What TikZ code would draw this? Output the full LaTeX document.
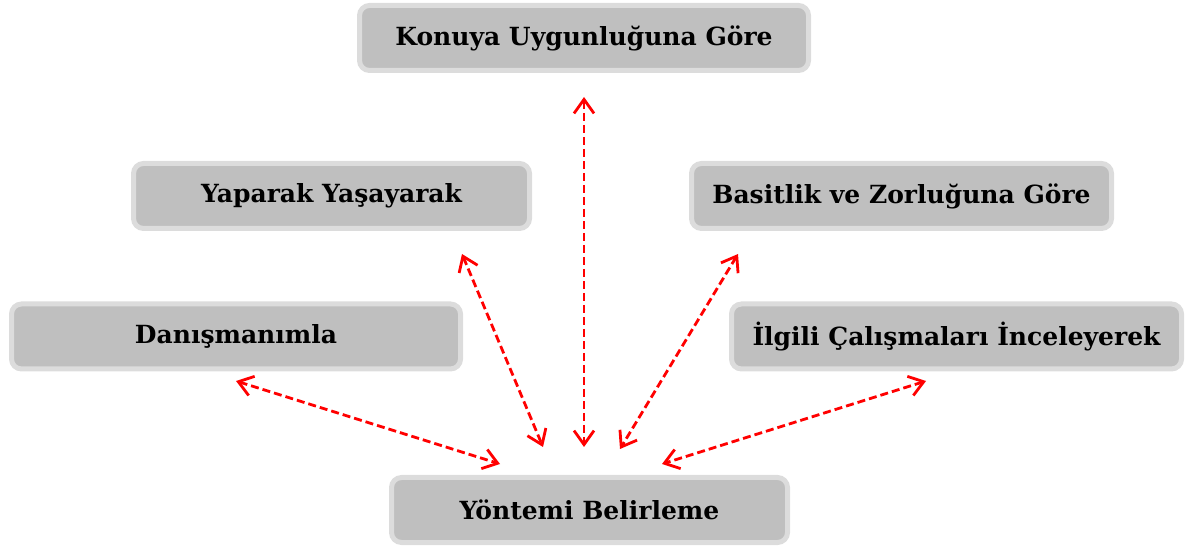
\documentclass[tikz,border=0pt]{standalone}
\usepackage{fontspec}
\setmainfont{DejaVu Serif}
\usepackage{xcolor}
\usepackage{tikz}
\usetikzlibrary{arrows.meta, positioning}
\definecolor{boxfill}{RGB}{191,191,191}
\definecolor{boxedge}{RGB}{220,220,220}
\definecolor{linkred}{RGB}{255,0,0}

\begin{document}
\begin{tikzpicture}[x=0.5pt, y=0.5pt,
        box/.style={draw=boxedge, line width=2.5pt, fill=boxfill, rounded corners=5pt,
            minimum height=32.5pt, font=\fontsize{12.5}{15}\selectfont\bfseries},
        link/.style={draw=linkred, line width=1.4pt, dash pattern=on 4pt off 2pt,
            {Straight Barb[length=7pt, width=10pt]}-{Straight Barb[length=7pt, width=10pt]}}]
            \useasboundingbox (0,0) rectangle (1187,551);
            % boxes
            \node[box, minimum width=224.5pt] (konu) at (584,513) {Konuya Uygunluğuna Göre};
            \node[box, minimum width=198pt] (yapa) at (331.5,355) {Yaparak Yaşayarak};
            \node[box, minimum width=210pt] (basi) at (901.5,355) {Basitlik ve Zorluğuna Göre};
            \node[box, minimum width=224.5pt] (dani) at (236,214.5) {Danışmanımla};
            \node[box, minimum width=225pt] (ilgi) at (956.5,214.5) {İlgili Çalışmaları İnceleyerek};
            \node[box, minimum width=198pt] (yont) at (589.5,41) {Yöntemi Belirleme};
            % arrow ends
            \coordinate (konuA) at (584,454);
            \coordinate (konuB) at (584,104);
            \coordinate (yapaA) at (462,297);
            \coordinate (yapaB) at (543,104);
            \coordinate (basiA) at (738,297);
            \coordinate (basiB) at (620,102);
            \coordinate (daniA) at (236,170);
            \coordinate (daniB) at (500,87);
            \coordinate (ilgiA) at (926,170);
            \coordinate (ilgiB) at (662,87);
            \foreach \n in {konu, yapa, basi, dani, ilgi}
                \draw[link] (\n A) -- (\n B);
        \end{tikzpicture}
\end{document}
